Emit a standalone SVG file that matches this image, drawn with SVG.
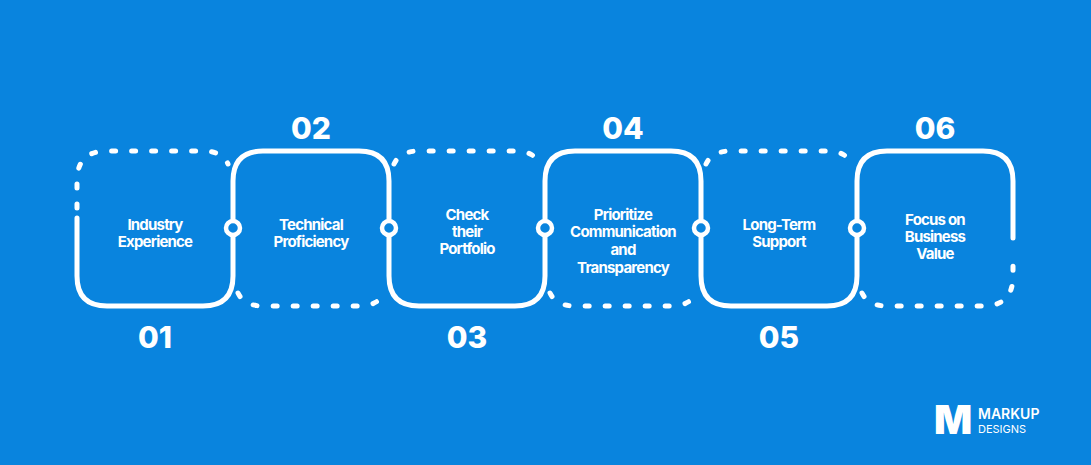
<svg xmlns="http://www.w3.org/2000/svg" width="1091" height="465" viewBox="0 0 1091 465">
<style>
.s{fill:none;stroke:#fff;stroke-width:5;stroke-linecap:round}
.d{fill:none;stroke:#fff;stroke-width:5;stroke-linecap:round;stroke-dasharray:4 16}
.j{fill:#0984de;stroke:#fff;stroke-width:4.5}
.l{font-family:Inter,"Liberation Sans",sans-serif;font-weight:700;font-size:15px;fill:#fff;text-anchor:middle;letter-spacing:-0.8px}
.n{font-family:Inter,"Liberation Sans",sans-serif;font-weight:800;font-size:30px;fill:#fff;text-anchor:middle}
</style>
<rect width="1091" height="465" fill="#0984de"/>
<g id="connectors">
<path class="s" d="M77,218 V276 Q77,306 107,306 H203 Q233,306 233,276 V181 Q233,151 263,151 H359 Q389,151 389,181 V276 Q389,306 419,306 H515 Q545,306 545,276 V181 Q545,151 575,151 H671 Q701,151 701,181 V276 Q701,306 731,306 H827 Q857,306 857,276 V181 Q857,151 887,151 H983 Q1013,151 1013,181 V238"/>
<path class="d" d="M77,208 V181 Q77,151 107,151 H203 Q222,151 228,164"/>
<path class="d" d="M238,293 Q244,306 263,306 H359 Q378,306 384,293"/>
<path class="d" d="M394,164 Q400,151 419,151 H515 Q534,151 540,164"/>
<path class="d" d="M550,293 Q556,306 575,306 H671 Q690,306 696,293"/>
<path class="d" d="M706,164 Q712,151 731,151 H827 Q846,151 852,164"/>
<path class="d" d="M862,293 Q868,306 887,306 H983 Q1013,306 1013,276 V252"/>
<circle class="j" cx="233" cy="228" r="7"/>
<circle class="j" cx="389" cy="228" r="7"/>
<circle class="j" cx="545" cy="228" r="7"/>
<circle class="j" cx="701" cy="228" r="7"/>
<circle class="j" cx="857" cy="228" r="7"/>
</g>
<g id="n1"><text class="l" x="155" y="230">Industry</text><text class="l" x="155" y="247">Experience</text><text class="n" x="155" y="348">01</text></g>
<g id="n2"><text class="l" x="311" y="230">Technical</text><text class="l" x="311" y="247">Proficiency</text><text class="n" x="311" y="139">02</text></g>
<g id="n3"><text class="l" x="467" y="220">Check</text><text class="l" x="467" y="237">their</text><text class="l" x="467" y="254">Portfolio</text><text class="n" x="467" y="348">03</text></g>
<g id="n4"><text class="l" x="623" y="220">Prioritize</text><text class="l" x="623" y="237">Communication</text><text class="l" x="623" y="255">and</text><text class="l" x="623" y="273">Transparency</text><text class="n" x="623" y="139">04</text></g>
<g id="n5"><text class="l" x="779" y="230">Long-Term</text><text class="l" x="779" y="247">Support</text><text class="n" x="779" y="348">05</text></g>
<g id="n6"><text class="l" x="935" y="225">Focus on</text><text class="l" x="935" y="242">Business</text><text class="l" x="935" y="259">Value</text><text class="n" x="935" y="139">06</text></g>
<g id="logo" font-family="Inter,'Liberation Sans',sans-serif" fill="#fff">
<text x="934" y="434" font-size="40" font-weight="900">M</text>
<text x="978" y="419" font-size="14" font-weight="600">MARKUP</text>
<text x="978" y="433" font-size="11" font-weight="400">DESIGNS</text>
</g>
</svg>
